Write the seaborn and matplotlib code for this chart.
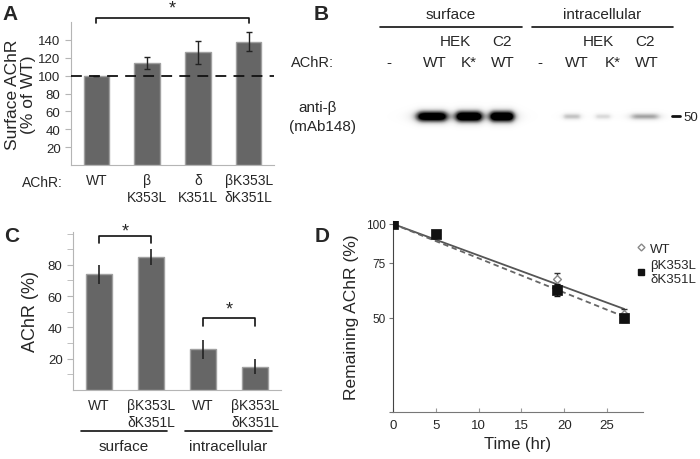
import numpy as np
import pandas as pd
import seaborn as sns
import matplotlib.pyplot as plt
from matplotlib.lines import Line2D

sns.set_style("white")
plt.rcParams['font.family'] = ['Liberation Sans', 'DejaVu Sans']

# ---- data ----
# A: surface AChR, % of WT
a_labels = ['WT', 'β\nK353L', 'δ\nK351L', 'βK353L\nδK351L']
a_mean = [100, 114, 126, 138]
a_err = [0, 7, 13, 10.5]

# B: western blot, anti-beta
b_groups = ['surface', 'intracellular']
b_cells = ['HEK', 'C2', 'HEK', 'C2']
b_lanes = ['-', 'WT', 'K*', 'WT', '-', 'WT', 'K*', 'WT']
b_intensity = [0.0, 0.95, 1.0, 1.0, 0.0, 0.22, 0.15, 0.3]
b_marker = '50'

# C: AChR distribution (%)
c_labels = ['WT', 'βK353L\nδK351L', 'WT', 'βK353L\nδK351L']
c_mean = [74, 85, 26, 15]
c_err = [6, 5, 6, 4.5]
c_groups = ['surface', 'intracellular']

# D: remaining AChR over time
d_time = [0, 5, 19.2, 27]
d_wt = [100, 93, 66.7, 51.5]
d_wt_err = [0, 1.5, 3, 2]
d_mut = [100, 93, 61.5, 50]
d_mut_err = [0, 2, 2.5, 1.5]

BAR = '#666666'
EDGE = '#a0a0a0'
AX = '#b5b5b5'


def fbox(l, t, r, b):
    return [l / 700, 1 - b / 460, (r - l) / 700, (b - t) / 460]


fig = plt.figure(figsize=(7, 4.6), dpi=100)

# overlay in pixel coords for annotations and the blot
ov = fig.add_axes([0, 0, 1, 1])
ov.patch.set_alpha(0)


def style_bar_axes(ax):
    sns.despine(ax=ax)
    for s in ['left', 'bottom']:
        ax.spines[s].set_color(AX)
    ax.set_xlim(-0.5, 3.5)
    ax.set_xticks([-0.5, 0.5, 1.5, 2.5, 3.5], minor=True)
    ax.tick_params(axis='x', which='major', length=0, labelsize=10, pad=6)
    ax.tick_params(axis='x', which='minor', length=5, color=AX, direction='out')
    ax.tick_params(axis='y', which='both', length=4, color=AX, direction='out',
                   labelsize=9.5, left=True)
    ax.set_xlabel('')


# ---- A ----
axA = fig.add_axes(fbox(71, 23, 274, 166))
dfA = pd.DataFrame({'g': a_labels, 'v': a_mean})
sns.barplot(data=dfA, x='g', y='v', ax=axA, color=BAR, edgecolor=EDGE,
            width=0.5, errorbar=None, saturation=1, linewidth=1)
axA.errorbar(range(4), a_mean, yerr=a_err, fmt='none', ecolor='#222222',
             capsize=2, elinewidth=1, capthick=1)
axA.axhline(100, color='#111111', ls=(0, (6, 4)), lw=1.3, zorder=5)
style_bar_axes(axA)
axA.set_ylim(0, 160)
axA.set_yticks([20, 40, 60, 80, 100, 120, 140])
axA.set_ylabel('Surface AChR\n(% of WT)', fontsize=12.5, labelpad=2,
               linespacing=1.05)
axA.plot([0, 0, 3, 3], [158.5, 164, 164, 158.5], color='#111111', lw=1.2,
         clip_on=False)
axA.text(1.5, 166, '*', ha='center', va='bottom', fontsize=13)
ov.text(42, 183, 'AChR:', ha='center', va='center', fontsize=10)

# ---- C ----
axC = fig.add_axes(fbox(73, 233, 281, 391))
dfC = pd.DataFrame({'g': range(4), 'v': c_mean})
sns.barplot(data=dfC, x='g', y='v', ax=axC, color=BAR, edgecolor=EDGE,
            width=0.5, errorbar=None, saturation=1, linewidth=1)
axC.errorbar(range(4), c_mean, yerr=c_err, fmt='none', ecolor='#222222',
             capsize=0, elinewidth=1.2)
style_bar_axes(axC)
axC.set_xticks(range(4))
axC.set_xticklabels(c_labels)
axC.set_ylim(0, 101)
axC.set_yticks([20, 40, 60, 80])
axC.set_yticks(range(10, 101, 10), minor=True)
axC.tick_params(axis='y', which='minor', length=4, color=AX)
axC.set_ylabel('AChR (%)', fontsize=13, labelpad=6)
axC.plot([0, 0, 1, 1], [94, 98.5, 98.5, 94], color='#111111', lw=1.2, clip_on=False)
axC.text(0.5, 96.5, '*', ha='center', va='bottom', fontsize=13, clip_on=False)
axC.plot([2, 2, 3, 3], [41, 46, 46, 41], color='#111111', lw=1.2)
axC.text(2.5, 46.5, '*', ha='center', va='bottom', fontsize=13)
for (x0, x1), name in zip([(81, 167), (185, 272)], c_groups):
    ov.plot([x0, x1], [432, 432], color='#111111', lw=1.2)
    ov.text((x0 + x1) / 2, 447, name, ha='center', va='center', fontsize=11)

# ---- D ----
axD = fig.add_axes(fbox(393, 222, 643, 413))
t = np.array(d_time, dtype=float)
tt = np.linspace(0, t.max(), 50)
for y, ls, col in [(d_wt, '-', '#555555'), (d_mut, (0, (3, 2)), '#666666')]:
    k = np.sum(t * np.log(np.array(y) / 100)) / np.sum(t ** 2)
    sns.lineplot(x=tt, y=100 * np.exp(k * tt), ax=axD, color=col, lw=1.3,
                 linestyle=ls, zorder=2)
axD.errorbar(d_time, d_wt, yerr=d_wt_err, fmt='none', ecolor='#333333',
             capsize=2.5, elinewidth=1, zorder=3)
axD.errorbar(d_time, d_mut, yerr=d_mut_err, fmt='none', ecolor='#111111',
             capsize=2.5, elinewidth=1, zorder=3)
sns.scatterplot(x=d_time, y=d_wt, ax=axD, marker='D', s=16, facecolor='white',
                edgecolor='#888888', linewidth=1, zorder=4)
sns.scatterplot(x=d_time, y=d_mut, ax=axD, marker='s', s=42, color='#111111',
                edgecolor='#111111', zorder=5)
axD.set_yscale('log')
axD.set_ylim(25, 102.2)
axD.set_xlim(0, 29.2)
axD.set_yticks([25, 50, 75, 100])
axD.set_yticklabels(['', '50', '75', '100'])
axD.yaxis.set_minor_locator(plt.NullLocator())
axD.set_xticks([0, 5, 10, 15, 20, 25])
sns.despine(ax=axD)
axD.spines['left'].set_color('#444444')
axD.spines['bottom'].set_color('#777777')
axD.tick_params(axis='y', length=3, direction='out', color='#777777',
                labelsize=8.5, left=True, pad=2)
axD.tick_params(axis='x', length=3, direction='in', color='#999999',
                labelsize=9.5, bottom=True, pad=5)
axD.set_xlabel('Time (hr)', fontsize=12, labelpad=4)
axD.set_ylabel('Remaining AChR (%)', fontsize=12.5, labelpad=5)
handles = [Line2D([], [], ls='none', marker='D', ms=3.5, mfc='white',
                  mec='#888888', mew=1),
           Line2D([], [], ls='none', marker='s', ms=5, color='#111111')]
fig.legend(handles, ['WT', 'βK353L\nδK351L'], loc='upper left',
           bbox_to_anchor=(628 / 700, 1 - 237 / 460), frameon=False,
           fontsize=9.5, handletextpad=0.2, handlelength=1, borderpad=0,
           labelspacing=0.3)

# ---- B (blot) ----
lane_x = [389, 435, 469, 503, 540, 577, 613, 647]
band_x = [389, 432, 469, 502, 540, 572, 603, 645]
band_w = [28, 30, 26, 24, 28, 17, 15, 28]
xs = np.arange(370, 700) + 0.5
ys = np.arange(100, 136) + 0.5
img = np.zeros((ys.size, xs.size))
for cx, w, inten in zip(band_x, band_w, b_intensity):
    px = 1 / (1 + ((xs - cx) / (w / 2)) ** 6)
    sy = 1.6 + 2.4 * inten
    py = np.exp(-0.5 * ((ys - 117.5) / sy) ** 2)
    img += inten * np.outer(py, px)
img = np.clip(img * 1.4, 0, 1) ** 0.9
ov.imshow(img, cmap='Greys', vmin=0, vmax=1, extent=(370, 700, 136, 100),
          origin='upper', aspect='auto', interpolation='bilinear', zorder=1)

for (x0, x1), name in zip([(380, 522), (532, 673)], b_groups):
    ov.plot([x0, x1], [28, 28], color='#111111', lw=1.2)
    ov.text((x0 + x1) / 2, 15, name, ha='center', va='center', fontsize=11)
for xc, name in zip([455, 502, 598, 645], b_cells):
    ov.text(xc, 42, name, ha='center', va='center', fontsize=11)
for xc, name in zip(lane_x, b_lanes):
    ov.text(xc, 63, name, ha='center', va='center', fontsize=11)
ov.text(312, 63, 'AChR:', ha='center', va='center', fontsize=10.5)
ov.text(318, 108, 'anti-β', ha='center', va='center', fontsize=11)
ov.text(322, 127, '(mAb148)', ha='center', va='center', fontsize=11)
ov.plot([672, 680], [117, 117], color='#111111', lw=2)
ov.text(683, 118, b_marker, ha='left', va='center', fontsize=9.5)

# panel letters
for xc, yc, letter in [(10, 15, 'A'), (321, 15, 'B'), (12, 237, 'C'), (322, 237, 'D')]:
    ov.text(xc, yc, letter, ha='center', va='center', fontsize=15,
            fontweight='bold')

ov.set_xlim(0, 700)
ov.set_ylim(460, 0)
ov.axis('off')

fig.savefig('out.png', dpi=100)
plt.close()
